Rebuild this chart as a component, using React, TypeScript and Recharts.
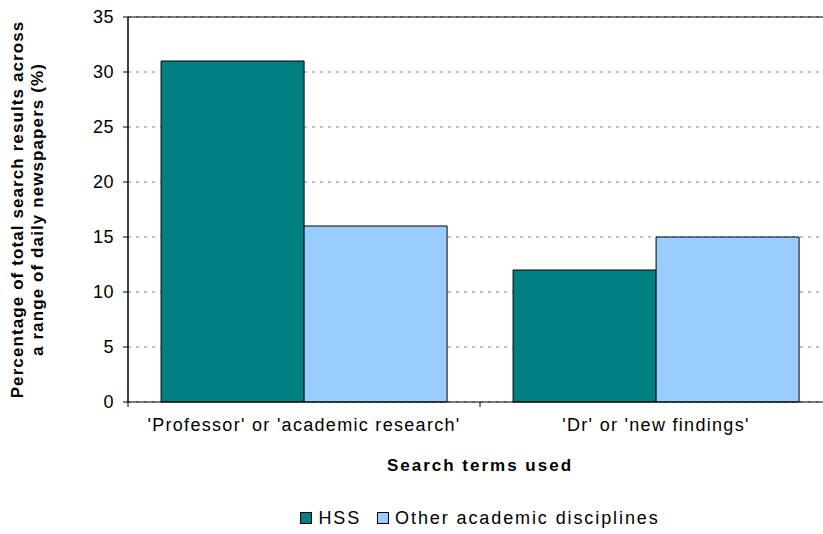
import React from "react";
import { Bar, BarChart, CartesianGrid, Legend, ReferenceLine, XAxis, YAxis } from "recharts";

const categories = ["'Professor' or 'academic research'", "'Dr' or 'new findings'"];
const hss = [31, 12];
const other = [16, 15];
const yTicks = [0, 5, 10, 15, 20, 25, 30, 35];

const data = categories.map((c, i) => ({ term: c, HSS: hss[i], "Other academic disciplines": other[i] }));

const FONT = "'Liberation Sans', Arial, sans-serif";

function CatTick(props: any) {
  const { x, y, payload, index, visibleTicksCount } = props;
  const half = payload.offset ?? 0;
  const last = index === visibleTicksCount - 1;
  return (
    <g>
      <line x1={x - half} x2={x - half} y1={y - 8} y2={y - 3} stroke="#000" />
      {last && <line x1={x + half} x2={x + half} y1={y - 8} y2={y - 3} stroke="#000" />}
      <text x={x} y={y + 21} textAnchor="middle" fontSize={18} letterSpacing={1.3} fill="#000" fontFamily={FONT}>
        {payload.value}
      </text>
    </g>
  );
}

function YTitle(props: any) {
  const { viewBox } = props;
  const cy = viewBox.y + viewBox.height / 2;
  const lines = ["Percentage of total search results across", "a range of daily newspapers (%)"];
  return (
    <g>
      {lines.map((t, i) => {
        const cx = viewBox.x + 23 + i * 20;
        return (
          <text key={i} x={cx} y={cy} transform={`rotate(-90 ${cx} ${cy})`} textAnchor="middle"
            fontSize={17} letterSpacing={1.1} fontWeight="bold" fill="#000" fontFamily={FONT}>
            {t}
          </text>
        );
      })}
    </g>
  );
}

function LegendBox(props: any) {
  const { payload = [] } = props;
  return (
    <div style={{ height: 24, display: "flex", justifyContent: "center", alignItems: "center", fontFamily: FONT, fontSize: 18, letterSpacing: 1.9, color: "#000" }}>
      {payload.map((p: any, i: number) => (
        <span key={i} style={{ display: "flex", alignItems: "center", marginLeft: i ? 16 : 0 }}>
          <span style={{ width: 10, height: 10, background: p.color, border: "1px solid #000", marginRight: 6, display: "inline-block" }} />
          {p.value}
        </span>
      ))}
    </div>
  );
}

export default function App() {
  return (
    <div style={{ position: "fixed", left: 0, top: 0, width: 823, height: 534, overflow: "hidden", background: "#fff" }}>
      <BarChart width={840} height={534} data={data} barCategoryGap="9.4%" barGap={0}
        margin={{ top: 17, right: 8, left: 0, bottom: 4 }}>
        <CartesianGrid vertical={false} stroke="#808080" strokeDasharray="3 5" />
        <XAxis dataKey="term" height={104} tick={<CatTick />} tickLine={false} axisLine={{ stroke: "#000" }}
          interval={0}
          label={{ value: "Search terms used", position: "insideBottom", offset: 35, fontSize: 17, letterSpacing: 2, fontWeight: "bold", fill: "#000", fontFamily: FONT }} />
        <YAxis width={128} domain={[0, 35]} ticks={yTicks} interval={0} tickSize={5}
          tick={{ fontSize: 18, letterSpacing: 0.5, fill: "#000", fontFamily: FONT }} tickMargin={9}
          axisLine={{ stroke: "#000", strokeWidth: 1.5 }} tickLine={{ stroke: "#000" }}
          label={<YTitle />} />
        <ReferenceLine y={35} stroke="#000" />
        <Legend verticalAlign="bottom" content={<LegendBox />} wrapperStyle={{ left: 128, width: 704 }} />
        <Bar dataKey="HSS" fill="#008080" stroke="#000" strokeWidth={1} isAnimationActive={false} />
        <Bar dataKey="Other academic disciplines" fill="#99CCFF" stroke="#000" strokeWidth={1} isAnimationActive={false} />
      </BarChart>
    </div>
  );
}
